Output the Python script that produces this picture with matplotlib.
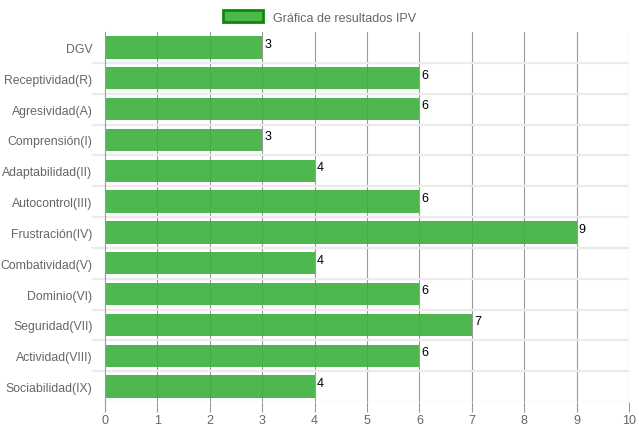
import numpy as np
import matplotlib.pyplot as plt
from matplotlib.patches import Patch

categories = ["DGV", "Receptividad(R)", "Agresividad(A)", "Comprensión(I)",
              "Adaptabilidad(II)", "Autocontrol(III)", "Frustración(IV)",
              "Combatividad(V)", "Dominio(VI)", "Seguridad(VII)",
              "Actividad(VIII)", "Sociabilidad(IX)"]
values = [3, 6, 6, 3, 4, 6, 9, 4, 6, 7, 6, 4]
series_name = "Gráfica de resultados IPV"

plt.rcParams['font.family'] = ['Liberation Sans', 'DejaVu Sans']

fig = plt.figure(figsize=(6.39, 4.31), dpi=100)
ax = fig.add_axes([105/639, 1-403/431, 524/639, 370/431])

y = np.arange(len(categories))
ax.barh(y, values, height=0.72, color='#3cb03c', alpha=0.9, zorder=1)

for yi, v in zip(y, values):
    ax.text(v + 0.04, yi - 0.12, str(v), fontsize=9, color='black',
            ha='left', va='center', zorder=3)

ax.set_xlim(0, 10)
ax.set_ylim(len(categories) - 0.5, -0.5)
ax.set_xticks(np.arange(0, 11))
ax.set_yticks(y)
ax.set_yticklabels(categories)

# vertical grid
for xv in range(1, 11):
    ax.axvline(xv, color='#9a9a9a', lw=0.8, zorder=0)
# horizontal separators between categories
for b in np.arange(0.5, len(categories) - 0.5, 1):
    ax.axhline(b, color='#ebebeb', lw=1.6, zorder=0)
ax.axhline(len(categories) - 0.5, color='#9a9a9a', lw=0.8, zorder=2)

for s in ['top', 'right', 'bottom']:
    ax.spines[s].set_visible(False)
ax.spines['left'].set_color('#9a9a9a')
ax.spines['left'].set_linewidth(0.8)
ax.spines['left'].set_zorder(2)

ax.tick_params(axis='x', length=7, color='#9a9a9a', labelsize=9,
               labelcolor='#666666', pad=2)
ax.tick_params(axis='y', length=0, labelsize=8.8, labelcolor='#666666', pad=9)

# tick marks for category boundaries on the left
for b in np.arange(0.5, len(categories) - 0.5, 1):
    ax.plot([-0.22, 0], [b, b], color='#ebebeb', lw=1.6, clip_on=False, zorder=0)

handle = Patch(facecolor='#4cb84c', edgecolor='#0a8a0a', linewidth=2)
fig.legend([handle], [series_name], loc='upper center',
           bbox_to_anchor=(0.5, 1.0), frameon=False, fontsize=9,
           handlelength=3.2, handleheight=1.1, labelcolor='#666666')

fig.savefig("out.png", dpi=100)
